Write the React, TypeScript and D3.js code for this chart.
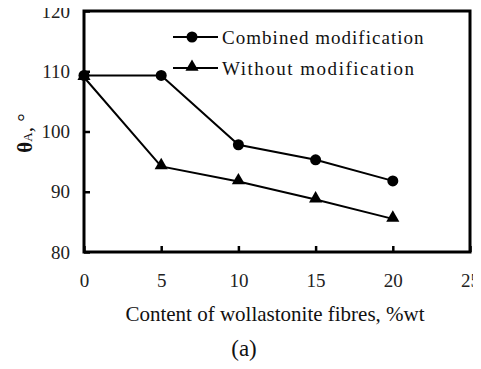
import React, { useEffect, useRef } from 'react';
import * as d3 from 'd3';

const content = [0, 5, 10, 15, 20];
const combined = [109.3, 109.3, 97.8, 95.3, 91.8];
const without = [109.0, 94.2, 91.7, 88.7, 85.5];
const xTicks = [0, 5, 10, 15, 20, 25];
const yTicks = [80, 90, 100, 110, 120];
const seriesNames = ['Combined modification', 'Without modification'];

const W = 481, H = 369;
const m = { left: 84, right: 11, top: 11, bottom: 117 };

const App = () => {
  const ref = useRef<SVGSVGElement>(null);

  useEffect(() => {
    const svg = d3.select(ref.current);
    svg.selectAll('*').remove();

    const x = d3.scaleLinear().domain([0, 25]).range([m.left, W - m.right]);
    const y = d3.scaleLinear().domain([80, 120]).range([H - m.bottom, m.top]);
    const serif = '"Liberation Serif", "Times New Roman", serif';

    // frame
    svg.append('rect')
      .attr('x', x(0)).attr('y', y(120))
      .attr('width', x(25) - x(0)).attr('height', y(80) - y(120))
      .attr('fill', 'none').attr('stroke', '#000').attr('stroke-width', 3);

    // ticks inward
    const xAxis = d3.axisBottom(x).tickValues(xTicks).tickSizeInner(-6).tickSizeOuter(0).tickPadding(22);
    const gx = svg.append('g').attr('transform', `translate(0,${y(80)})`).call(xAxis);
    gx.select('.domain').remove();
    gx.selectAll('line').attr('stroke-width', 2.5);
    gx.selectAll('text').attr('font-family', serif).attr('font-size', 19).attr('fill', '#222');

    const yAxis = d3.axisLeft(y).tickValues(yTicks).tickSizeInner(-6).tickSizeOuter(0).tickPadding(14);
    const gy = svg.append('g').attr('transform', `translate(${x(0)},0)`).call(yAxis);
    gy.select('.domain').remove();
    gy.selectAll('line').attr('stroke-width', 2.5);
    gy.selectAll('text').attr('font-family', serif).attr('font-size', 19).attr('fill', '#222');

    const line = d3.line<number>().x((d, i) => x(content[i])).y(d => y(d));
    [combined, without].forEach(s => {
      svg.append('path').datum(s).attr('d', line)
        .attr('fill', 'none').attr('stroke', '#000').attr('stroke-width', 2);
    });

    const tri = d3.symbol().type(d3.symbolTriangle).size(75);
    svg.selectAll('.dot').data(combined).enter().append('circle')
      .attr('cx', (d, i) => x(content[i])).attr('cy', d => y(d)).attr('r', 5.5).attr('fill', '#000');
    svg.selectAll('.tri').data(without).enter().append('path')
      .attr('d', tri)
      .attr('transform', (d, i) => `translate(${x(content[i])},${y(d) - 1})`).attr('fill', '#000');

    // legend
    const lg = svg.append('g');
    seriesNames.forEach((name, i) => {
      const ly = 37 + i * 31;
      lg.append('line').attr('x1', 173).attr('x2', 218).attr('y1', ly).attr('y2', ly)
        .attr('stroke', '#000').attr('stroke-width', 2);
      if (i === 0) lg.append('circle').attr('cx', 192).attr('cy', ly).attr('r', 5.5).attr('fill', '#000');
      else lg.append('path').attr('d', tri).attr('transform', `translate(192,${ly - 1})`).attr('fill', '#000');
      lg.append('text').attr('x', 222).attr('y', ly).attr('dy', '0.35em')
        .attr('font-family', serif).attr('font-size', 19).attr('fill', '#111')
        .attr('textLength', name.length * 9.6).attr('lengthAdjust', 'spacing')
        .text(name);
    });

    svg.append('text').attr('x', 275).attr('y', 321)
      .attr('text-anchor', 'middle').attr('font-family', serif).attr('font-size', 21).attr('fill', '#111')
      .text('Content of wollastonite fibres, %wt');
    svg.append('text').attr('x', 244).attr('y', 356)
      .attr('text-anchor', 'middle').attr('font-family', serif).attr('font-size', 23).attr('fill', '#111')
      .text('(a)');

    const yl = svg.append('text').attr('transform', 'translate(32,133) rotate(-90)')
      .attr('text-anchor', 'middle').attr('font-family', serif).attr('font-size', 21).attr('fill', '#111');
    yl.append('tspan').attr('font-weight', 'bold').text('θ');
    yl.append('tspan').attr('font-size', 13).text('A');
    yl.append('tspan').text(', °');
  }, []);

  return (
    <div style={{ margin: -8 }}>
      <svg ref={ref} width={W} height={H} style={{ display: 'block', background: '#fff' }} />
    </div>
  );
};

export default App;
